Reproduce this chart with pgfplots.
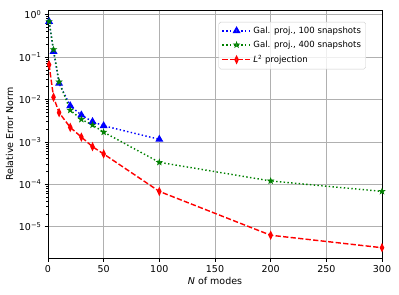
\documentclass[border=0pt]{standalone}
\usepackage{fontspec}
\setmainfont{DejaVu Sans}
\usepackage{pgfplots}
\pgfplotsset{compat=1.18}
\definecolor{mplgreen}{rgb}{0,0.5,0}
\definecolor{gridgray}{HTML}{B0B0B0}
\pgfdeclareplotmark{fstar}{%
  \pgfpathmoveto{\pgfpointpolar{90}{\pgfplotmarksize}}%
  \pgfpathlineto{\pgfpointpolar{126}{0.382\pgfplotmarksize}}%
  \pgfpathlineto{\pgfpointpolar{162}{\pgfplotmarksize}}%
  \pgfpathlineto{\pgfpointpolar{198}{0.382\pgfplotmarksize}}%
  \pgfpathlineto{\pgfpointpolar{234}{\pgfplotmarksize}}%
  \pgfpathlineto{\pgfpointpolar{270}{0.382\pgfplotmarksize}}%
  \pgfpathlineto{\pgfpointpolar{306}{\pgfplotmarksize}}%
  \pgfpathlineto{\pgfpointpolar{342}{0.382\pgfplotmarksize}}%
  \pgfpathlineto{\pgfpointpolar{18}{\pgfplotmarksize}}%
  \pgfpathlineto{\pgfpointpolar{54}{0.382\pgfplotmarksize}}%
  \pgfpathclose
  \pgfusepathqfillstroke}
\begin{document}
\begin{tikzpicture}
\begin{semilogyaxis}[
  scale only axis,
  width=351.6pt, height=261.4pt,
  xmin=0, xmax=300, ymin=1.8e-6, ymax=1.29,
  xtick={0,50,100,150,200,250,300},
  ytick={1e-5,1e-4,1e-3,1e-2,1e-1,1},
  yticklabels={10\textsuperscript{−5},10\textsuperscript{−4},10\textsuperscript{−3},10\textsuperscript{−2},10\textsuperscript{−1},10\textsuperscript{0}},
  /pgf/number format/assume math mode=true,
  tick label style={font=\fontsize{10}{12}\selectfont},
  label style={font=\fontsize{10}{12}\selectfont},
  tick align=outside,
  tick pos=left,
  major tick length=3.5pt,
  minor tick length=2pt,
  every tick/.style={black, line width=0.8pt},
  minor tick style={line width=0.6pt},
  axis line style={line width=0.8pt},
  grid=major,
  major grid style={gridgray, line width=0.8pt},
  xlabel={\textit{N} of modes},
  ylabel={Relative Error Norm},
  xlabel style={yshift=2pt},
  ylabel style={yshift=-1pt},
  legend style={at={(0.952,0.952)}, anchor=north east, draw=black!20, rounded corners=2pt, fill=white, fill opacity=0.8, text opacity=1, font=\fontsize{9}{11}\selectfont, inner sep=3pt, row sep=2.5pt},
  legend cell align=left,
  legend image code/.code={\draw[mark repeat=2,mark phase=2] plot coordinates {(0pt,0pt) (15pt,0pt) (30pt,0pt)};},
]
\addplot[blue, line width=1.5pt, dash pattern=on 1.5pt off 2.475pt, mark=triangle*, mark size=3.4pt, mark options={solid}]
  coordinates {(1,0.69) (5,0.135) (10,0.024) (20,0.0071) (30,0.0043) (40,0.0030) (50,0.0024) (100,0.00115)};
\addlegendentry{Gal. proj., 100 snapshots}
\addplot[mplgreen, line width=1.5pt, dash pattern=on 1.5pt off 2.475pt, mark=fstar, mark size=3.3pt, mark options={solid, fill=mplgreen, line width=0.5pt}]
  coordinates {(1,0.69) (5,0.15) (10,0.026) (20,0.0056) (30,0.0034) (40,0.0025) (50,0.0017) (100,3.3e-4) (200,1.2e-4) (300,6.8e-5)};
\addlegendentry{Gal. proj., 400 snapshots}
\addplot[red, line width=1.5pt, dash pattern=on 5.55pt off 2.4pt, mark=diamond*, mark size=3.3pt, mark options={solid, xscale=0.65}]
  coordinates {(1,0.066) (5,0.0113) (10,0.0049) (20,0.0022) (30,0.0013) (40,7.7e-4) (50,5.2e-4) (100,6.8e-5) (200,6.3e-6) (300,3.2e-6)};
\addlegendentry{\textit{L}\textsuperscript{2} projection}
\end{semilogyaxis}
\pgfresetboundingbox
\path (current axis.south west) ++(-50.5pt,-37.9pt) coordinate (bbsw);
\path (current axis.north east) ++(17.9pt,10.5pt) coordinate (bbne);
\path[use as bounding box] (bbsw) rectangle (bbne);
\end{tikzpicture}
\end{document}
